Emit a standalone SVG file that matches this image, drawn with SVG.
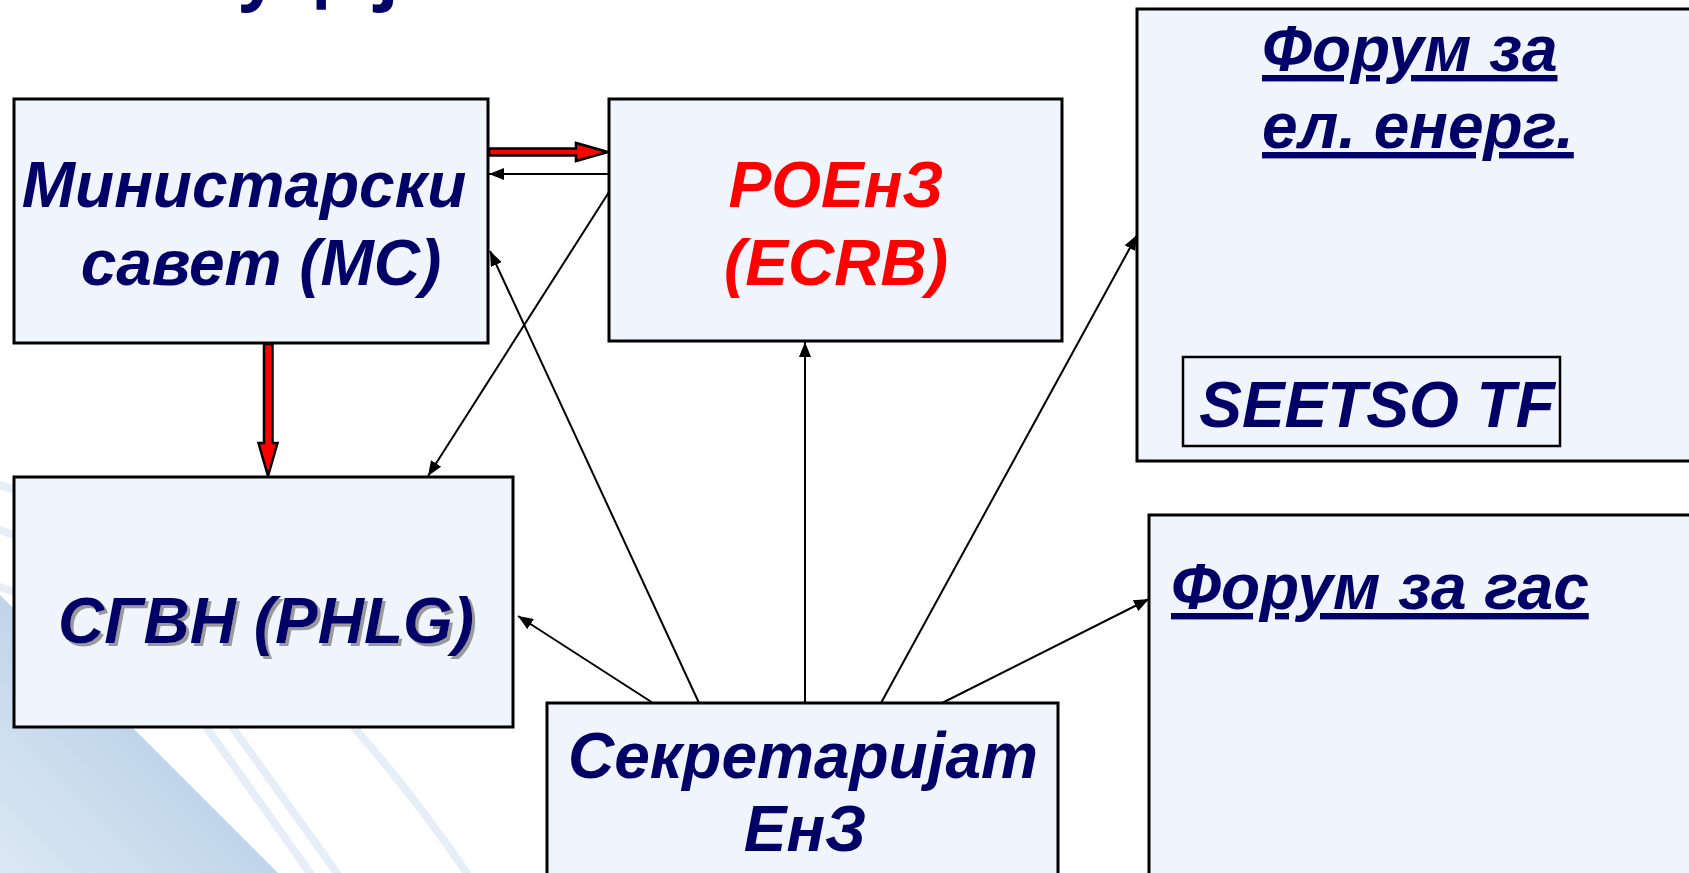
<svg xmlns="http://www.w3.org/2000/svg" width="1689" height="873" viewBox="0 0 1689 873">
<defs>
<style>
.box{fill:#F0F4FD;stroke:#000;stroke-width:3}
.t{font-family:"Liberation Sans",Arial,sans-serif;font-weight:bold;font-style:italic;font-size:64px;fill:#000066}
.red{fill:#FF0000}
.u{text-decoration:underline}
.c{stroke:#000;stroke-width:2;fill:none;marker-end:url(#ah)}
.ra{fill:#FF0000;stroke:#000;stroke-width:2.5;stroke-linejoin:miter}
.sw{fill:none;stroke:#E6EEF8;stroke-width:8;stroke-linecap:round}
</style>
<marker id="ah" markerUnits="userSpaceOnUse" markerWidth="16" markerHeight="12" refX="15" refY="6" orient="auto">
<path d="M0,0 L15,6 L0,12 Z" fill="#000"/>
</marker>
<linearGradient id="bg" x1="0" y1="873" x2="140" y2="733" gradientUnits="userSpaceOnUse">
<stop offset="0" stop-color="#DDE8F3"/>
<stop offset="1" stop-color="#BFD5EA"/>
</linearGradient>
<filter id="sh" x="-5%" y="-20%" width="115%" height="150%">
<feDropShadow dx="3" dy="3" stdDeviation="0.6" flood-color="#9A9A9A" flood-opacity="1"/>
</filter>
</defs>
<rect width="1689" height="873" fill="#FFFFFF"/>
<g id="background">
<path d="M0,595 L278,873 L0,873 Z" fill="url(#bg)"/>
<path class="sw" d="M0,485 C170,535 320,660 467,873"/>
<path class="sw" d="M0,530 C120,570 180,640 233,728 L337,873"/>
<path class="sw" d="M0,587 C100,620 160,660 207,728 L310,873"/>
</g>
<g id="title">
<text x="-29" y="-4" font-family="'Open Sans',sans-serif" font-weight="bold" font-size="70" fill="#000066">Институције</text>
</g>
<g id="connectors">
<line class="c" x1="609" y1="174" x2="489" y2="174"/>
<line class="c" x1="609" y1="192" x2="428" y2="476"/>
<line class="c" x1="653" y1="703" x2="518" y2="616"/>
<line class="c" x1="699" y1="703" x2="490" y2="251"/>
<line class="c" x1="805" y1="703" x2="805" y2="342"/>
<line class="c" x1="881" y1="703" x2="1137" y2="235"/>
<line class="c" x1="942" y1="703" x2="1149" y2="599"/>
<polygon class="ra" points="489,148.5 576,148.5 576,143 608,152 576,161 576,155.5 489,155.5"/>
<polygon class="ra" points="264,344 272.5,344 272.5,443 277.5,443 268,476 258.5,443 264,443"/>
</g>
<g id="mc">
<rect class="box" x="14" y="99" width="474" height="244"/>
<text class="t" x="244" y="207" text-anchor="middle">Министарски</text>
<text class="t" x="261" y="285" text-anchor="middle">савет (МС)</text>
</g>
<g id="roenz">
<rect class="box" x="609" y="99" width="453" height="242"/>
<text class="t red" x="836" y="207" text-anchor="middle">РОЕнЗ</text>
<text class="t red" x="836" y="285" text-anchor="middle">(ECRB)</text>
</g>
<g id="forum-el">
<rect class="box" x="1137" y="9" width="570" height="452"/>
<text class="t u" x="1262" y="71">Форум за</text>
<text class="t u" x="1262" y="148">ел. енерг.</text>
<g id="seetso">
<rect x="1183" y="357" width="377" height="89" fill="#F0F4FD" stroke="#000" stroke-width="2.5"/>
<text class="t" x="1377" y="427" text-anchor="middle">SEETSO TF</text>
</g>
</g>
<g id="sgvn">
<rect class="box" x="14" y="477" width="499" height="250"/>
<text class="t" x="266" y="643" text-anchor="middle" filter="url(#sh)">СГВН (PHLG)</text>
</g>
<g id="forum-gas">
<rect class="box" x="1149" y="515" width="570" height="400"/>
<text class="t u" x="1171" y="609">Форум за гас</text>
</g>
<g id="secretariat">
<rect class="box" x="547" y="703" width="511" height="200"/>
<text class="t" x="803" y="778" text-anchor="middle">Секретаријат</text>
<text class="t" x="805" y="851" text-anchor="middle">ЕнЗ</text>
</g>
</svg>
